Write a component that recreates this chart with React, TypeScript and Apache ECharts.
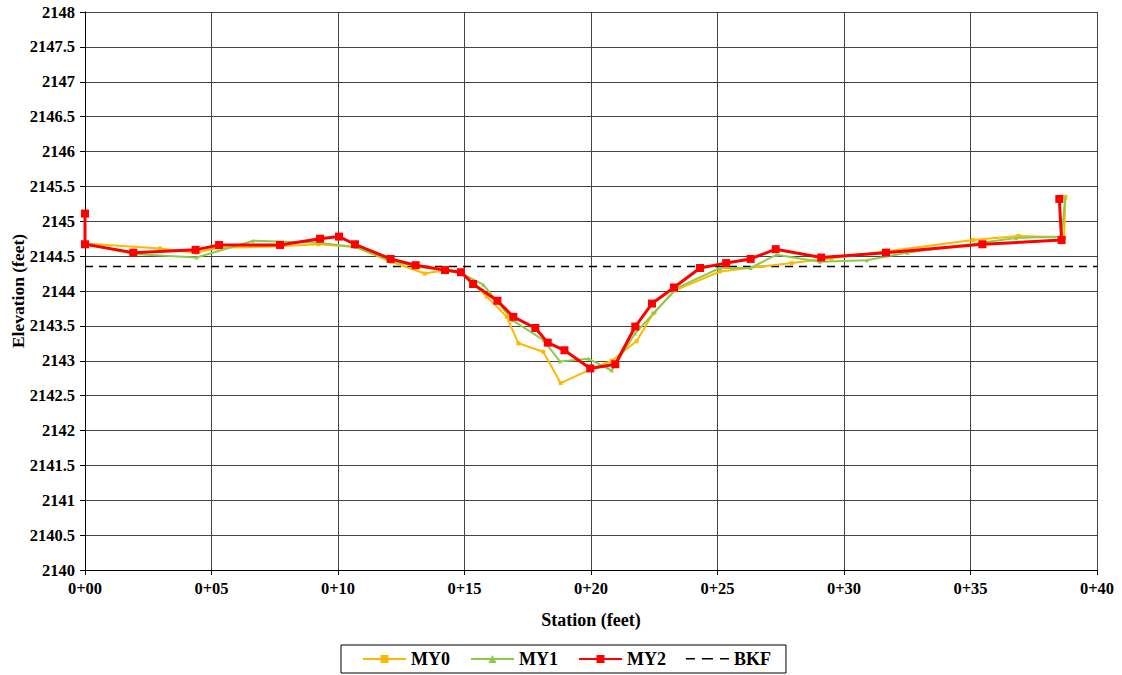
import React, { useEffect, useRef } from "react";
import * as echarts from "echarts";

const xTicks = [0, 5, 10, 15, 20, 25, 30, 35, 40];

const my0Station = [0, 2.96, 4.4, 5.3, 7.7, 9.22, 10.7, 12.1, 13.43, 14.3, 14.9, 15.88, 16.67, 17.13, 18.11, 18.8, 20.0, 20.82, 21.8, 22.46, 23.32, 25.1, 27.93, 29.5, 31.7, 35.1, 36.9, 38.7, 38.75];
const my0Elev = [2144.68, 2144.61, 2144.55, 2144.62, 2144.64, 2144.67, 2144.63, 2144.42, 2144.25, 2144.3, 2144.27, 2143.92, 2143.63, 2143.25, 2143.13, 2142.68, 2142.88, 2143.0, 2143.28, 2143.68, 2144.01, 2144.28, 2144.4, 2144.47, 2144.57, 2144.73, 2144.79, 2144.77, 2145.35];

const my1Station = [0, 1.9, 4.41, 6.65, 9.29, 10.7, 12.1, 13.1, 14.2, 14.9, 15.74, 16.9, 18.11, 18.77, 19.89, 20.82, 21.74, 22.53, 23.39, 25.1, 26.3, 27.34, 29.05, 30.9, 32.5, 36.8, 38.6, 38.74];
const my1Elev = [2144.68, 2144.53, 2144.48, 2144.72, 2144.69, 2144.63, 2144.43, 2144.35, 2144.3, 2144.25, 2144.09, 2143.58, 2143.3, 2142.99, 2143.03, 2142.86, 2143.39, 2143.7, 2144.04, 2144.33, 2144.33, 2144.52, 2144.42, 2144.44, 2144.55, 2144.76, 2144.78, 2145.33];

const my2Station = [0, 0, 1.91, 4.37, 5.3, 7.71, 9.29, 10.04, 10.67, 12.08, 13.07, 14.23, 14.86, 15.34, 16.3, 16.93, 17.8, 18.29, 18.95, 19.97, 20.96, 21.75, 22.41, 23.28, 24.31, 25.34, 26.31, 27.3, 29.1, 31.66, 35.47, 38.6, 38.51];
const my2Elev = [2145.11, 2144.67, 2144.55, 2144.59, 2144.66, 2144.66, 2144.75, 2144.78, 2144.67, 2144.46, 2144.37, 2144.3, 2144.27, 2144.1, 2143.86, 2143.63, 2143.47, 2143.26, 2143.15, 2142.89, 2142.95, 2143.49, 2143.82, 2144.05, 2144.33, 2144.4, 2144.46, 2144.6, 2144.48, 2144.55, 2144.67, 2144.73, 2145.32];

const bkfStation = [0, 40];
const bkfElev = [2144.35, 2144.35];

const FONT = "Liberation Serif, Times New Roman, serif";

const zip = (a: number[], b: number[]) => a.map((v, i) => [v, b[i]]);

const BKF_ICON =
  "path://M0,0 M43,10 M0,4 L9,4 L9,5.6 L0,5.6 Z M16,4 L27,4 L27,5.6 L16,5.6 Z M34,4 L43,4 L43,5.6 L34,5.6 Z";

export default function App() {
  const ref = useRef<HTMLDivElement>(null);
  useEffect(() => {
    if (!ref.current) return;
    const chart = echarts.init(ref.current, undefined, { renderer: "svg" });
    chart.setOption({
      animation: false,
      backgroundColor: "#ffffff",
      textStyle: { fontFamily: FONT },
      grid: { left: 85, top: 12, right: 25, bottom: 105, containLabel: false, outerBoundsMode: "none" },
      xAxis: {
        type: "value",
        min: xTicks[0],
        max: xTicks[xTicks.length - 1],
        interval: 5,
        name: "Station (feet)",
        nameLocation: "middle",
        nameGap: 41,
        nameMoveOverlap: false,
        nameTextStyle: { fontFamily: FONT, fontWeight: "bold", fontSize: 18, color: "#000" },
        axisLine: { show: true, lineStyle: { color: "#000", width: 1 } },
        axisTick: { show: true, length: 5, lineStyle: { color: "#000" } },
        axisLabel: {
          fontFamily: FONT,
          fontWeight: "bold",
          fontSize: 16.5,
          color: "#000",
          margin: 10,
          formatter: (v: number) => "0+" + String(Math.round(v)).padStart(2, "0"),
        },
        splitLine: { show: true, lineStyle: { color: "#444", width: 1 } },
      },
      yAxis: {
        type: "value",
        min: 2140,
        max: 2148,
        interval: 0.5,
        name: "Elevation (feet)",
        nameLocation: "middle",
        nameGap: 58,
        nameMoveOverlap: false,
        nameTextStyle: { fontFamily: FONT, fontWeight: "bold", fontSize: 17.5, color: "#000" },
        axisLine: { show: true, lineStyle: { color: "#000", width: 1 } },
        axisTick: { show: true, length: 5, lineStyle: { color: "#000" } },
        axisLabel: {
          fontFamily: FONT,
          fontWeight: "bold",
          fontSize: 16.5,
          color: "#000",
          margin: 10,
          formatter: (v: number) => String(v),
        },
        splitLine: { show: true, lineStyle: { color: "#444", width: 1 } },
      },
      legend: {
        bottom: 2,
        left: 341,
        data: ["MY0", "MY1", "MY2", { name: "BKF", icon: BKF_ICON, itemStyle: { color: "#000" } }],
        borderColor: "#000",
        borderWidth: 1,
        padding: [5, 15, 5, 21],
        itemGap: 20,
        itemWidth: 43,
        itemHeight: 10,
        textStyle: { fontFamily: FONT, fontWeight: "bold", fontSize: 18, color: "#000" },
      },
      series: [
        {
          name: "BKF",
          type: "line",
          data: zip(bkfStation, bkfElev),
          symbol: "none",
          lineStyle: { color: "#000", width: 1.5, type: [8, 6] },
          itemStyle: { color: "#000" },
          z: 1,
        },
        {
          name: "MY0",
          type: "line",
          data: zip(my0Station, my0Elev),
          symbol: "rect",
          symbolSize: 4,
          lineStyle: { color: "#FFB800", width: 2 },
          itemStyle: { color: "#FFB800" },
          z: 2,
        },
        {
          name: "MY1",
          type: "line",
          data: zip(my1Station, my1Elev),
          symbol: "triangle",
          symbolSize: 4,
          lineStyle: { color: "#8CCB4A", width: 2 },
          itemStyle: { color: "#8CCB4A" },
          z: 3,
        },
        {
          name: "MY2",
          type: "line",
          data: zip(my2Station, my2Elev),
          symbol: "rect",
          symbolSize: 8,
          lineStyle: { color: "#FF0000", width: 3 },
          itemStyle: { color: "#FF0000" },
          z: 4,
        },
      ],
    });
    return () => chart.dispose();
  }, []);
  return (
    <div
      ref={ref}
      style={{ position: "fixed", left: 0, top: 0, width: 1122, height: 675, background: "#fff" }}
    />
  );
}
